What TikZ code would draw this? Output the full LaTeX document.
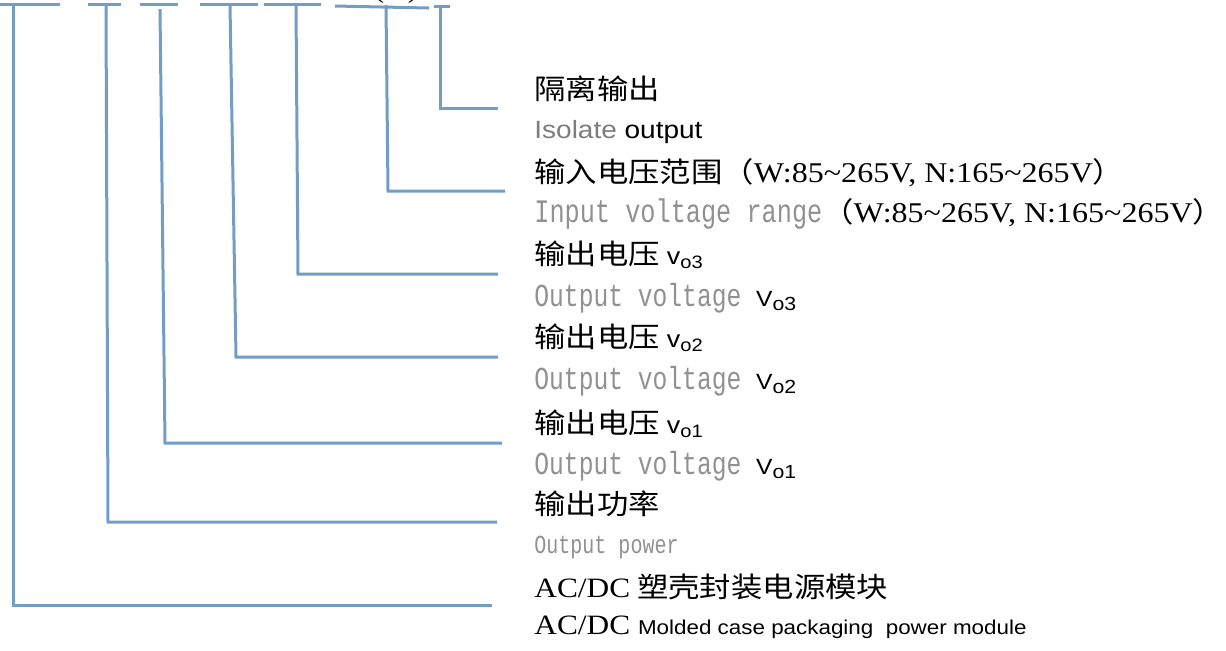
\documentclass[tikz,border=0pt]{standalone}
\usepackage{fontspec}
\usepackage{xcolor}
\setmainfont{Liberation Serif}[FakeStretch=1.12]
\newfontfamily\cjkfont{Noto Sans CJK SC}[FakeStretch=1.12]
\newfontfamily\arialfont{Liberation Sans}[FakeStretch=1.12]
\newfontfamily\monofont{Liberation Mono}[FakeStretch=0.77]
\usetikzlibrary{positioning}
\definecolor{lineBlue}{RGB}{114,157,199}
\definecolor{txtGray}{RGB}{145,145,145}
\definecolor{isoGray}{RGB}{125,125,125}

\newcommand{\vsmall}[1]{{\arialfont\fontsize{12pt}{14pt}\selectfont v\raisebox{-2pt}{\fontsize{9pt}{10pt}\selectfont #1}}}
\newcommand{\vbig}[1]{{\color{black}\arialfont\fontsize{11pt}{13pt}\selectfont V\raisebox{-2pt}{\fontsize{9.5pt}{10pt}\selectfont #1}}}
\newcommand{\rangetxt}{{\rmfamily\fontsize{14.3pt}{17pt}\selectfont W:85\textasciitilde 265V, N:165\textasciitilde 265V}}

\begin{document}
\begin{tikzpicture}[
    x=0.5pt, y=-0.5pt,
    bline/.style={lineBlue, line width=1.5pt},
    cnlab/.style={anchor=base west, inner sep=0pt, font=\cjkfont\fontsize{14pt}{17pt}\selectfont},
    enlab/.style={anchor=base west, inner sep=0pt, text=txtGray, font=\monofont\fontsize{16pt}{18pt}\selectfont}
]
  \useasboundingbox (0,0) rectangle (1226,650);

  % top dashes of the model code
  \foreach \xa/\xb/\ya/\yb in {0/60/4/4, 88/121/4/4, 140/178/4/4, 200/258/4/4, 264/321/4/4, 335/429/6/8, 434/450/6/6} {
    \draw[bline] (\xa,\ya) -- (\xb,\yb);
  }
  \node[anchor=base, inner sep=0pt, font=\rmfamily\fontsize{14pt}{16pt}\selectfont] (paren) at (396,-3) {(\hspace{12pt})};

  % leaders down to the labels
  \foreach \xt/\xb/\yt/\yb/\xe in {13/13/4/605/492, 106/108/4/522/497, 160/165/9/443/502, 230/236/5/357/498, 296/298/5/274/498, 386/388/5/191/505, 440/440/7/108/498} {
    \draw[bline] (\xt,\yt) -- (\xb,\yb) -- (\xe,\yb);
  }

  \node[cnlab] (iso-cn) at (534,99) {隔离输出};
  \node[anchor=base west, inner sep=0pt, font=\arialfont\fontsize{12.5pt}{15pt}\selectfont] (iso-en) at (534,138) {\textcolor{isoGray}{Isolate} output};

  \node[cnlab] (vin-cn) at (534,182) {输入电压范围（\rangetxt）};
  \node[enlab, font=\monofont\fontsize{16.4pt}{19pt}\selectfont] (vin-en) at (534,222) {Input voltage range{\color{black}\cjkfont\fontsize{14pt}{17pt}\selectfont（\rangetxt）}};

  \node[cnlab] (vo3-cn) at (534,264) {输出电压 \vsmall{o3}};
  \node[enlab] (vo3-en) at (534,306) {Output voltage \vbig{o3}};
  \node[cnlab] (vo2-cn) at (534,347) {输出电压 \vsmall{o2}};
  \node[enlab] (vo2-en) at (534,389) {Output voltage \vbig{o2}};
  \node[cnlab] (vo1-cn) at (534,433) {输出电压 \vsmall{o1}};
  \node[enlab] (vo1-en) at (534,474) {Output voltage \vbig{o1}};

  \node[cnlab] (pwr-cn) at (534,514) {输出功率};
  \node[enlab, font=\monofont\fontsize{13pt}{15pt}\selectfont] (pwr-en) at (534,553) {Output power};

  \node[cnlab] (mod-cn) at (534,597) {{\rmfamily AC/DC} 塑壳封装电源模块};
  \node[anchor=base west, inner sep=0pt, font=\rmfamily\fontsize{14pt}{17pt}\selectfont] (mod-en) at (534,634) {AC/DC {\arialfont\fontsize{10pt}{12pt}\selectfont Molded case packaging\ \ power module}};
\end{tikzpicture}
\end{document}
